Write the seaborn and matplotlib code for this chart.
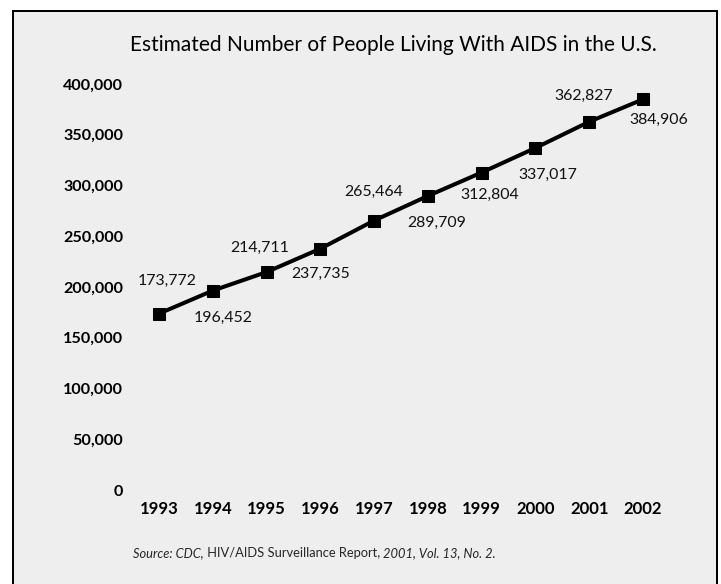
import matplotlib
matplotlib.use("Agg")
import matplotlib.pyplot as plt
import matplotlib.patches as mpatches
import seaborn as sns
import pandas as pd

years = [1993, 1994, 1995, 1996, 1997, 1998, 1999, 2000, 2001, 2002]
people = [173772, 196452, 214711, 237735, 265464, 289709, 312804, 337017, 362827, 384906]
value_labels = ["173,772", "196,452", "214,711", "237,735", "265,464",
                "289,709", "312,804", "337,017", "362,827", "384,906"]
ytick_values = [0, 50000, 100000, 150000, 200000, 250000, 300000, 350000, 400000]
ytick_labels = ["0", "50,000", "100,000", "150,000", "200,000",
                "250,000", "300,000", "350,000", "400,000"]
title = "Estimated Number of People Living With AIDS in the U.S."
source_parts = [("Source: CDC,", "italic"),
                (" HIV/AIDS Surveillance Report, ", "normal"),
                ("2001, Vol. 13, No. 2.", "italic")]

# label offsets in pixels (dx right, dy down) -- layout only
label_offsets_px = [(8, -33), (10, 27), (-7, -24), (0, 25), (0, -29),
                    (9, 27), (8, 22), (12, 27), (-6, -26), (16, 21)]

sns.set_theme(style="white")
FONT = ["Lato", "DejaVu Sans"]
plt.rcParams["font.family"] = FONT

W, H, DPI = 721, 584, 100
fig = plt.figure(figsize=(W / DPI, H / DPI), dpi=DPI, facecolor="white")

# panel background with border
bg = mpatches.Rectangle((13 / W, -0.05), (717 - 13) / W, (H - 11) / H + 0.05,
                        transform=fig.transFigure, facecolor="#eeeeee",
                        edgecolor="black", linewidth=2 * 72 / DPI, zorder=-5)
fig.patches.append(bg)

x0, x1 = 132.1, 669.9
ybot, ytop = 490, 84
ax = fig.add_axes([x0 / W, (H - ybot) / H, (x1 - x0) / W, (ybot - ytop) / H])
ax.set_zorder(2)
ax.patch.set_alpha(0)

df = pd.DataFrame({"year": years, "people": people})
sns.lineplot(data=df, x="year", y="people", ax=ax, color="black",
             linewidth=2.9, marker="s", markersize=8.8,
             markeredgecolor="black", markerfacecolor="black")

ax.set_xlim(1992.5, 2002.5)
ax.set_ylim(0, 400000)
ax.set_xticks(years)
ax.set_xticklabels([str(y) for y in years], fontweight="bold", fontsize=12)
ax.set_yticks(ytick_values)
ax.set_yticklabels(ytick_labels, fontweight="bold", fontsize=11.6)
ax.tick_params(axis="both", length=0, colors="black")
ax.tick_params(axis="x", pad=8)
ax.tick_params(axis="y", pad=6.5)
for s in ax.spines.values():
    s.set_visible(False)
ax.set_xlabel("")
ax.set_ylabel("")
ax.grid(False)

pt = 72 / DPI
for x, y, lab, (dx, dy) in zip(years, people, value_labels, label_offsets_px):
    ax.annotate(lab, xy=(x, y), xytext=(dx * pt, -dy * pt),
                textcoords="offset points", ha="center", va="center",
                fontsize=11.4, color="#111111")

fig.text(393 / W, (H - 45) / H, title, ha="center", va="center",
         fontsize=15, color="black", zorder=3)

prev = ax.annotate(source_parts[0][0], xy=(133 / W, (H - 553) / H),
                   xycoords="figure fraction", ha="left", va="center",
                   fontsize=9.3, style=source_parts[0][1],
                   annotation_clip=False)
for txt, st in source_parts[1:]:
    prev = ax.annotate(txt, xy=(1, 0), xycoords=prev, ha="left", va="bottom",
                       fontsize=9.3, style=st, annotation_clip=False)

fig.savefig("out.png", dpi=DPI, facecolor="white")
